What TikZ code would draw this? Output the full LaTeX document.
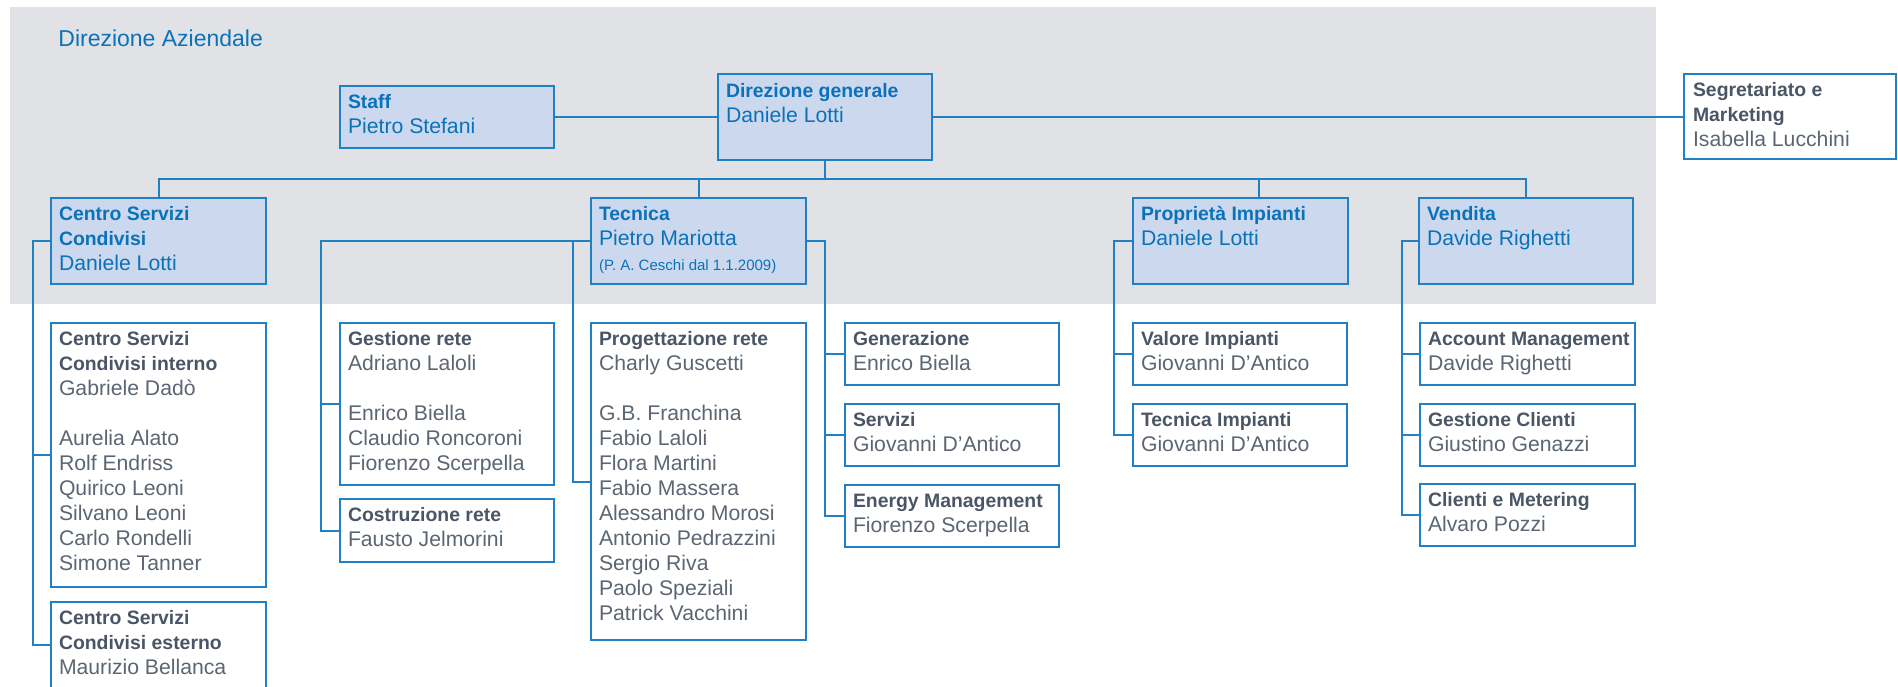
\documentclass[tikz,border=0pt]{standalone}
\usepackage{fontspec}
\setmainfont{Liberation Sans}
\usetikzlibrary{calc}
\definecolor{band}{HTML}{E1E2E6}
\definecolor{boxfill}{HTML}{CCD8EE}
\definecolor{bline}{HTML}{2180C4}
\definecolor{btext}{HTML}{0B72B9}
\definecolor{gtextH}{HTML}{4A5566}
\definecolor{gtextN}{HTML}{5C6672}
\colorlet{hcol}{gtextH}
\newcommand\Hd[1]{\hbox{\fontsize{9.7pt}{12.5pt}\selectfont\bfseries\color{hcol}#1}}
\newcommand\Nm[1]{\hbox{\fontsize{10.6pt}{12.5pt}\selectfont #1}}
\newcommand\Sm[1]{\hbox{\fontsize{7.5pt}{12.5pt}\selectfont #1}}
\newcommand\Gap{\hbox{}}
\newcommand\Blk[1]{\vtop{\baselineskip=12.5pt\lineskiplimit=-100pt\lineskip=0pt #1}}
\newcommand\OBox[6]{\node[#6, anchor=north west, minimum width=#4*0.5pt, minimum height=#5*0.5pt] (#1) at (#2,#3) {};}
\newcommand\OText[3]{\node[#2, anchor=base west] (#1-t) at ($(#1.north west)+(8,22)$) {\Blk{#3}};}
\tikzset{
  topbox/.style={draw=bline, fill=boxfill, line width=1pt, inner sep=0, outer sep=0},
  whitebox/.style={draw=bline, fill=white, line width=1pt, inner sep=0, outer sep=0},
  toptext/.style={inner sep=0, outer sep=0, text=btext, execute at begin node={\colorlet{hcol}{btext}}},
  subtext/.style={inner sep=0, outer sep=0, text=gtextN},
  conn/.style={draw=bline, line width=1pt},
}
\begin{document}
\begin{tikzpicture}[x=0.5pt, y=-0.5pt]
\useasboundingbox (0,0) rectangle (1898,686);
\begin{scope}
\clip (0,0) rectangle (1898,686);
\fill[band] (10,7) rectangle (1656,304);
\node[anchor=base west, inner sep=0, text=btext, font=\fontsize{11.5pt}{14pt}\selectfont] (title) at (58,46) {Direzione Aziendale};

% boxes (top section)
\OBox{staff}{340}{86}{214}{62}{topbox}
\OBox{dg}{718}{74}{214}{86}{topbox}
\OBox{seg}{1684}{74}{212}{85}{whitebox}
\OBox{csc}{51}{198}{215}{86}{topbox}
\OBox{tec}{591}{198}{215}{86}{topbox}
\OBox{prop}{1133}{198}{215}{86}{topbox}
\OBox{ven}{1419}{198}{214}{86}{topbox}
% sub boxes
\OBox{csi}{51}{323}{215}{264}{whitebox}
\OBox{cse}{51}{602}{215}{86}{whitebox}
\OBox{gest}{340}{323}{214}{162}{whitebox}
\OBox{costr}{340}{499}{214}{63}{whitebox}
\OBox{prog}{591}{323}{215}{317}{whitebox}
\OBox{gen}{845}{323}{214}{62}{whitebox}
\OBox{serv}{845}{404}{214}{62}{whitebox}
\OBox{enm}{845}{485}{214}{62}{whitebox}
\OBox{val}{1133}{323}{214}{62}{whitebox}
\OBox{tim}{1133}{404}{214}{62}{whitebox}
\OBox{acc}{1420}{323}{215}{62}{whitebox}
\OBox{gcl}{1420}{404}{215}{62}{whitebox}
\OBox{cme}{1420}{484}{215}{62}{whitebox}

% connectors
\coordinate (bus) at (0,179);
\coordinate (propdrop) at (1259,198);
\coordinate (cv) at (33,0);
\coordinate (tv1) at (321,0);
\coordinate (tv2) at (573,0);
\coordinate (tv3) at (825,0);
\coordinate (pv) at (1114,0);
\coordinate (vv) at (1402,0);
\draw[conn] (staff.east) -- (dg.west);
\draw[conn] (dg.east) -- (dg.east -| seg.west);
\draw[conn] (dg.south) -- (dg.south |- bus);
\draw[conn] (csc.north) -- (csc.north |- bus) -- (ven.north |- bus) -- (ven.north);
\draw[conn] (tec.north) -- (tec.north |- bus);
\draw[conn] (propdrop) -- (propdrop |- bus);
\draw[conn] (csc.west) -- (csc.west -| cv) |- (cse.west);
\draw[conn] (csc.west -| cv) |- (csi.west);
\draw[conn] (tec.west) -- (tec.west -| tv1) |- (costr.west);
\draw[conn] (tec.west -| tv1) |- (gest.west);
\draw[conn] (tec.west -| tv2) |- (prog.west);
\draw[conn] (tec.east) -- (tec.east -| tv3) |- (enm.west);
\draw[conn] (tec.east -| tv3) |- (gen.west);
\draw[conn] (tec.east -| tv3) |- (serv.west);
\draw[conn] (prop.west) -- (prop.west -| pv) |- (tim.west);
\draw[conn] (prop.west -| pv) |- (val.west);
\draw[conn] (ven.west) -- (ven.west -| vv) |- (cme.west);
\draw[conn] (ven.west -| vv) |- (acc.west);
\draw[conn] (ven.west -| vv) |- (gcl.west);

% texts
\OText{staff}{toptext}{\Hd{Staff}\Nm{Pietro Stefani}}
\node[toptext, anchor=base west] (dg-t) at ($(dg.north west)+(8,23)$) {\Blk{\Hd{Direzione generale}\Nm{Daniele Lotti}}};
\node[subtext, anchor=base west] (seg-t) at ($(seg.north west)+(9,22)$) {\Blk{\Hd{Segretariato e}\Hd{Marketing}\Nm{Isabella Lucchini}}};
\OText{csc}{toptext}{\Hd{Centro Servizi}\Hd{Condivisi}\Nm{Daniele Lotti}}
\OText{tec}{toptext}{\Hd{Tecnica}\Nm{Pietro Mariotta}\Sm{(P. A. Ceschi dal 1.1.2009)}}
\OText{prop}{toptext}{\Hd{Proprietà Impianti}\Nm{Daniele Lotti}}
\OText{ven}{toptext}{\Hd{Vendita}\Nm{Davide Righetti}}
\OText{csi}{subtext}{\Hd{Centro Servizi}\Hd{Condivisi interno}\Nm{Gabriele Dadò}\Gap\Nm{Aurelia Alato}\Nm{Rolf Endriss}\Nm{Quirico Leoni}\Nm{Silvano Leoni}\Nm{Carlo Rondelli}\Nm{Simone Tanner}}
\OText{cse}{subtext}{\Hd{Centro Servizi}\Hd{Condivisi esterno}\Nm{Maurizio Bellanca}}
\OText{gest}{subtext}{\Hd{Gestione rete}\Nm{Adriano Laloli}\Gap\Nm{Enrico Biella}\Nm{Claudio Roncoroni}\Nm{Fiorenzo Scerpella}}
\OText{costr}{subtext}{\Hd{Costruzione rete}\Nm{Fausto Jelmorini}}
\OText{prog}{subtext}{\Hd{Progettazione rete}\Nm{Charly Guscetti}\Gap\Nm{G.B. Franchina}\Nm{Fabio Laloli}\Nm{Flora Martini}\Nm{Fabio Massera}\Nm{Alessandro Morosi}\Nm{Antonio Pedrazzini}\Nm{Sergio Riva}\Nm{Paolo Speziali}\Nm{Patrick Vacchini}}
\OText{gen}{subtext}{\Hd{Generazione}\Nm{Enrico Biella}}
\OText{serv}{subtext}{\Hd{Servizi}\Nm{Giovanni D’Antico}}
\OText{enm}{subtext}{\Hd{Energy Management}\Nm{Fiorenzo Scerpella}}
\OText{val}{subtext}{\Hd{Valore Impianti}\Nm{Giovanni D’Antico}}
\OText{tim}{subtext}{\Hd{Tecnica Impianti}\Nm{Giovanni D’Antico}}
\OText{acc}{subtext}{\Hd{Account Management}\Nm{Davide Righetti}}
\OText{gcl}{subtext}{\Hd{Gestione Clienti}\Nm{Giustino Genazzi}}
\OText{cme}{subtext}{\Hd{Clienti e Metering}\Nm{Alvaro Pozzi}}
\end{scope}
\end{tikzpicture}
\end{document}
